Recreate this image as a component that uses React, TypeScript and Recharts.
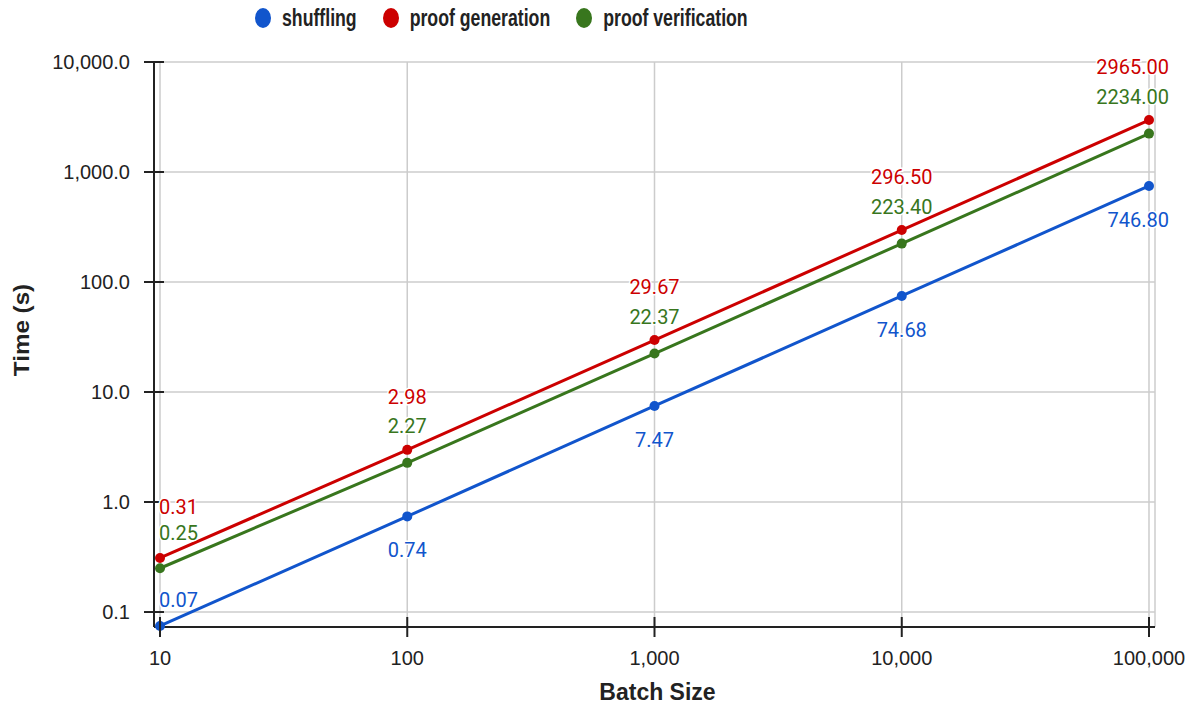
import React from 'react';
import { LineChart, Line, XAxis, YAxis, CartesianGrid, Legend, LabelList } from 'recharts';

const batchSizes = [10, 100, 1000, 10000, 100000];
const shuffling = [0.0747, 0.74, 7.47, 74.68, 746.8];
const proofGeneration = [0.31, 2.98, 29.67, 296.5, 2965.0];
const proofVerification = [0.25, 2.27, 22.37, 223.4, 2234.0];
const xTicks = [10, 100, 1000, 10000, 100000];
const yTicks = [0.1, 1, 10, 100, 1000, 10000];

const seriesDefs = [
  { key: 'shuffling', name: 'shuffling', color: '#1155cc', values: shuffling, dy: 34, firstDy: -26 },
  { key: 'proofGeneration', name: 'proof generation', color: '#cc0000', values: proofGeneration, dy: -53, firstDy: -51 },
  { key: 'proofVerification', name: 'proof verification', color: '#38761d', values: proofVerification, dy: -37, firstDy: -35 },
];

const data = batchSizes.map((b, i) => ({
  batch: b,
  shuffling: shuffling[i],
  proofGeneration: proofGeneration[i],
  proofVerification: proofVerification[i],
}));

const AXIS = '#222222';
const FONT = '"Liberation Sans", Arial, sans-serif';

const fmtX = (v: number) => v.toLocaleString('en-US');
const fmtY = (v: number) =>
  v.toLocaleString('en-US', { minimumFractionDigits: 1, maximumFractionDigits: 1 });

const YTick = (props: any) => {
  const { x, y, payload } = props;
  return (
    <g>
      <line x1={x + 14} x2={x + 34} y1={y} y2={y} stroke={AXIS} strokeWidth={2} />
      <text x={x} y={y} textAnchor="end" dominantBaseline="central" fontSize={20} fill={AXIS} fontFamily={FONT}>
        {fmtY(payload.value)}
      </text>
    </g>
  );
};

const XTick = (props: any) => {
  const { x, y, payload } = props;
  return (
    <g>
      <line x1={x} x2={x} y1={y - 41} y2={y - 21} stroke={AXIS} strokeWidth={2} />
      <text x={x} y={y} textAnchor="middle" dominantBaseline="central" fontSize={20} fill={AXIS} fontFamily={FONT}>
        {fmtX(payload.value)}
      </text>
    </g>
  );
};

const makeLabel = (def: any) => (props: any) => {
  const { x, y, value } = props;
  let index = props.index;
  if (index === undefined || index === null) index = def.values.indexOf(value);
  const last = def.values.length - 1;
  let anchor: 'start' | 'middle' | 'end' = 'middle';
  let tx = x;
  let dy = def.dy;
  if (index === 0) {
    anchor = 'start';
    tx = x - 1;
    dy = def.firstDy;
  } else if (index === last) {
    anchor = 'end';
    tx = x + 20;
  }
  return (
    <text
      x={tx}
      y={y + dy}
      textAnchor={anchor}
      dominantBaseline="central"
      fontSize={20}
      fontFamily="Roboto, sans-serif"
      fill={def.color}
      stroke="#ffffff"
      strokeWidth={3}
      paintOrder="stroke"
    >
      {Number(value).toFixed(2)}
    </text>
  );
};

const LegendContent = () => (
  <div
    style={{
      height: 62,
      width: 1189,
      display: 'flex',
      alignItems: 'flex-start',
      paddingLeft: 255,
      boxSizing: 'border-box',
      fontFamily: FONT,
    }}
  >
    {seriesDefs.map((s) => (
      <div key={s.key} style={{ display: 'flex', alignItems: 'center', marginRight: 26, height: 36 }}>
        <span
          style={{
            display: 'inline-block',
            width: 16,
            height: 20,
            borderRadius: '50%',
            background: s.color,
            marginRight: 11,
          }}
        />
        <span
          style={{
            display: 'inline-block',
            fontSize: 17.7,
            fontWeight: 'bold',
            color: '#222',
            transform: 'scaleY(1.3)',
            lineHeight: '20px',
          }}
        >
          {s.name}
        </span>
      </div>
    ))}
  </div>
);

const XTitle = (props: any) => {
  const vb = props.viewBox || { x: 154, y: 627, width: 1001, height: 80 };
  return (
    <text
      x={vb.x + vb.width / 2 + 3}
      y={vb.y + 65}
      textAnchor="middle"
      dominantBaseline="central"
      fontSize={23}
      fontWeight="bold"
      fill={AXIS}
      fontFamily={FONT}
    >
      Batch Size
    </text>
  );
};

const YTitle = () => (
  <text
    transform="translate(21,330) rotate(-90) scale(1.1,1)"
    x={0}
    y={0}
    textAnchor="middle"
    dominantBaseline="central"
    fontSize={22}
    fontWeight="bold"
    fill={AXIS}
    fontFamily={FONT}
  >
    Time (s)
  </text>
);

export default function App() {
  return (
    <div style={{ position: 'absolute', left: 0, top: 0, width: 1189, height: 707, background: '#fff' }}>
      <LineChart
        width={1189}
        height={707}
        data={data}
        margin={{ top: 0, right: 34, bottom: 0, left: 0 }}
        style={{ fontFamily: FONT }}
      >
        <Legend
          verticalAlign="top"
          align="left"
          content={<LegendContent />}
          wrapperStyle={{ top: 0, left: 0, width: 1189, height: 62 }}
        />
        <CartesianGrid stroke="#cccccc" strokeWidth={1.5} />
        <XAxis
          dataKey="batch"
          type="number"
          scale="log"
          domain={[9.456, 105750]}
          ticks={xTicks}
          tick={<XTick />}
          tickLine={false}
          tickSize={10}
          tickMargin={21}
          height={80}
          axisLine={{ stroke: AXIS, strokeWidth: 2 }}
          label={<XTitle />}
          interval={0}
        />
        <YAxis
          type="number"
          scale="log"
          domain={[0.0731, 10000]}
          ticks={yTicks}
          tick={<YTick />}
          tickLine={false}
          tickSize={10}
          tickMargin={14}
          width={154}
          axisLine={{ stroke: AXIS, strokeWidth: 2 }}
          label={<YTitle />}
          interval={0}
        />
        {seriesDefs.map((s) => (
          <Line
            key={s.key}
            dataKey={s.key}
            name={s.name}
            stroke={s.color}
            strokeWidth={3}
            dot={{ r: 5, fill: s.color, stroke: s.color, strokeWidth: 0 }}
            activeDot={false}
            isAnimationActive={false}
          >
            <LabelList dataKey={s.key} content={makeLabel(s)} />
          </Line>
        ))}
      </LineChart>
    </div>
  );
}
